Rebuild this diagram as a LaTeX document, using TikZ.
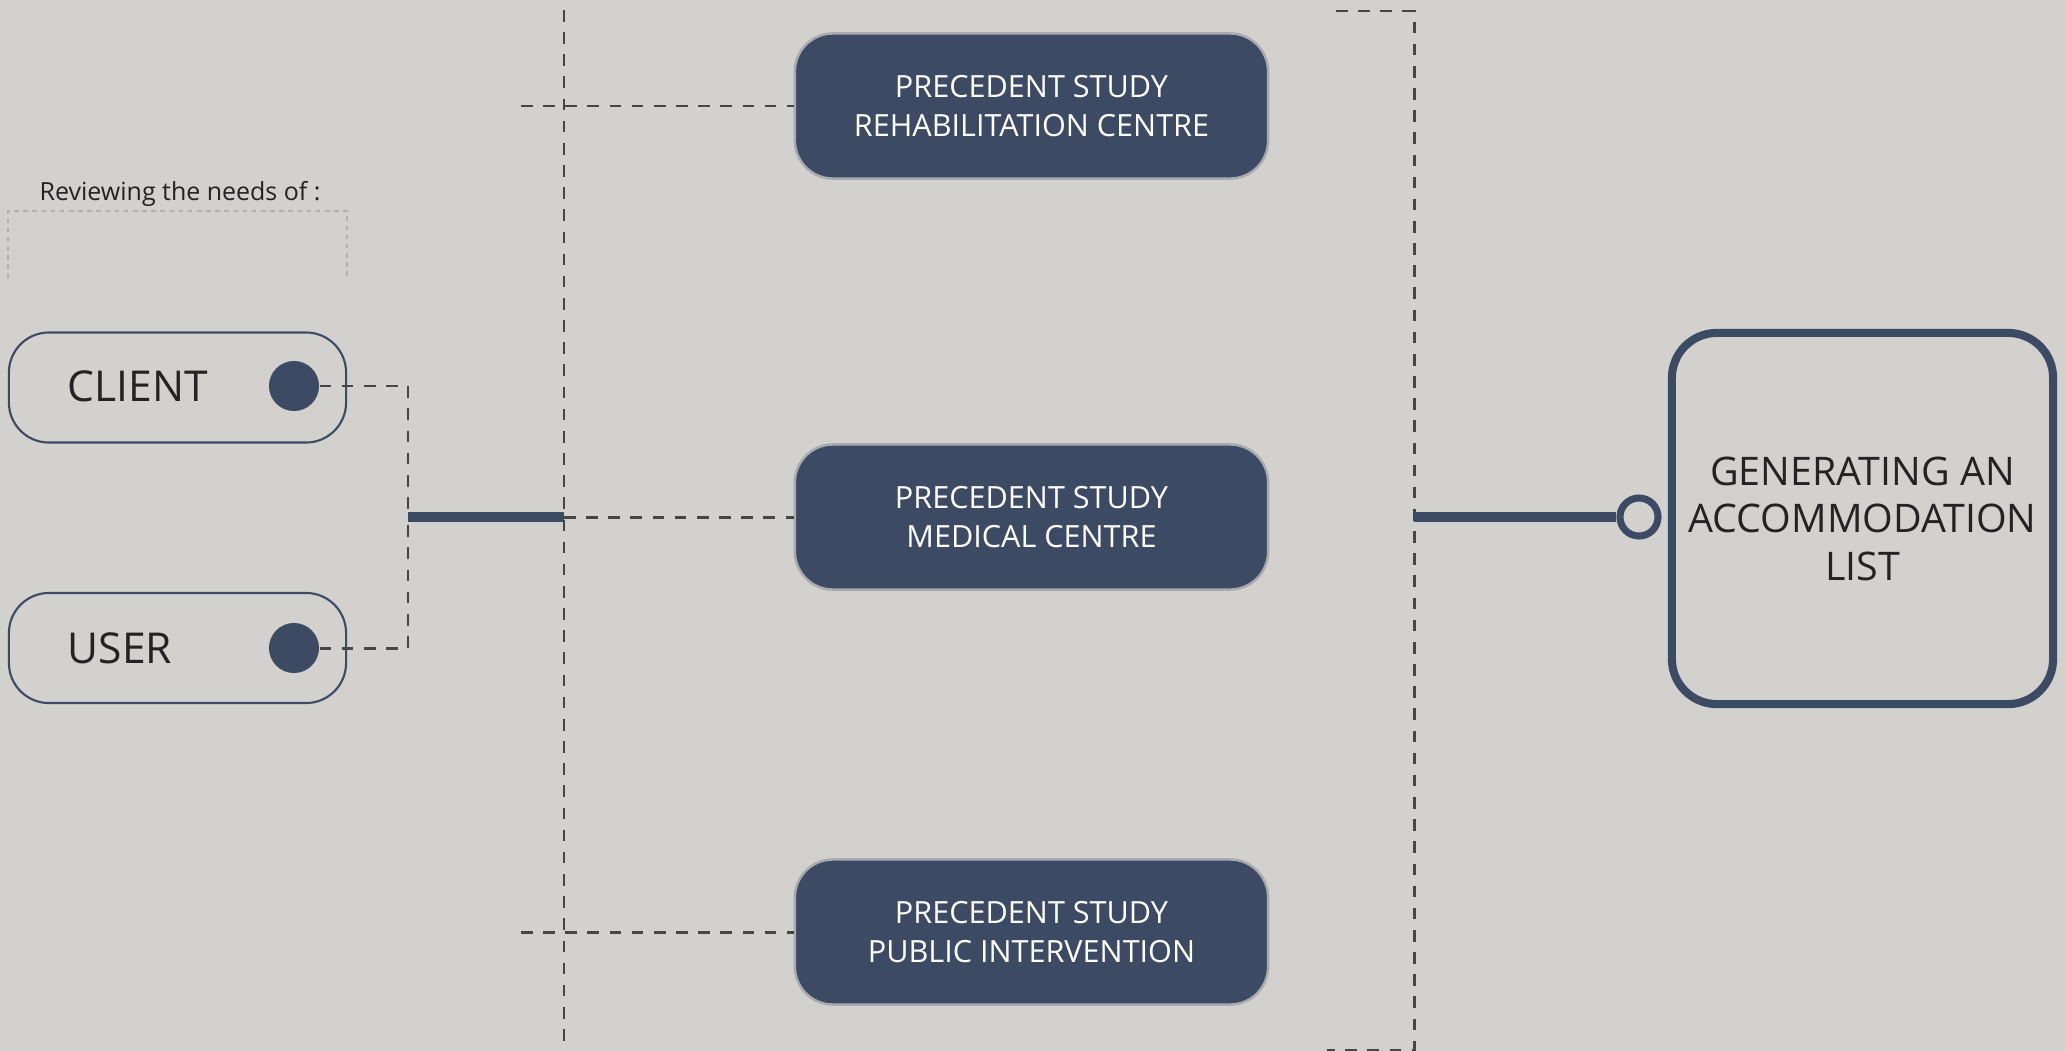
\documentclass[tikz,border=0pt]{standalone}
\usepackage{fontspec}
\setmainfont{Open Sans}
\usepackage{xcolor}
\usepackage{tikz}
\usetikzlibrary{positioning,calc}
\definecolor{stonebg}{HTML}{D2D1CD}
\definecolor{slateblue}{HTML}{3C4B63}
\definecolor{dashgrey}{HTML}{464646}
\definecolor{rimgrey}{HTML}{A8AAAF}
\definecolor{hintgrey}{HTML}{B2B2B2}
\definecolor{inkgrey}{HTML}{232323}

\begin{document}
\begin{tikzpicture}[
    x=0.01cm, y=-0.01cm,
    study/.style={draw=rimgrey, line width=0.7pt, fill=slateblue, rounded corners=0.38cm, minimum width=4.73cm, minimum height=1.45cm, text=white, align=center, inner sep=0pt, font=\fontsize{8.7}{10.9}\selectfont},
    person/.style={draw=slateblue, line width=0.6pt, rounded corners=0.4cm, minimum width=3.37cm, minimum height=1.1cm, inner sep=0pt},
    plabel/.style={anchor=west, inner sep=0pt, text=inkgrey, font=\fontsize{12.1}{15}\selectfont},
    dot/.style={circle, fill=slateblue, minimum size=0.5cm, inner sep=0pt},
    guide/.style={draw=dashgrey, line width=0.85pt, dash pattern=on 3.3pt off 3pt},
    bar/.style={draw=slateblue, line width=2.8pt}
]
    % Canvas
    \useasboundingbox (0,0) rectangle (2065,1051);
    \fill[stonebg] (0,0) rectangle (2065,1051);

    % Reviewing the needs of
    \node[anchor=base west, inner sep=0pt, text=inkgrey, font=\fontsize{7.1}{9}\selectfont] (review) at (39,200) {Reviewing the needs of :};
    \draw[draw=hintgrey, line width=0.4pt, dash pattern=on 1.3pt off 1.3pt] (8,278) |- (347,211) -- (347,278);

    % Client and user
    \node[person] (client) at (177.5,387.5) {};
    \node[plabel] (client_t) at (67,386) {CLIENT};
    \node[dot] (client_d) at (294,386) {};

    \node[person] (user) at (177.5,648) {};
    \node[plabel] (user_t) at (67,648) {USER};
    \node[dot] (user_d) at (294,648) {};

    % Precedent studies
    \node[study] (rehab) at (1031.5,106) {PRECEDENT STUDY\\REHABILITATION CENTRE};
    \node[study] (medic) at (1031.5,517) {PRECEDENT STUDY\\MEDICAL CENTRE};
    \node[study] (public) at (1031.5,932) {PRECEDENT STUDY\\PUBLIC INTERVENTION};

    % Result
    \node[draw=slateblue, line width=2.3pt, rounded corners=0.45cm, minimum width=3.81cm, minimum height=3.71cm, align=center, text=inkgrey, font=\fontsize{11.2}{13.5}\selectfont] (goal) at (1862.5,518.5) {GENERATING AN\\ACCOMMODATION\\LIST};
    \node[circle, draw=slateblue, line width=2pt, fill=stonebg, minimum size=0.38cm, inner sep=0pt] (ring) at (1639,517) {};

    % Guide coordinates
    \coordinate (fork) at (408,517);
    \coordinate (spine_t) at (564,10);
    \coordinate (spine_b) at (564,1051);
    \coordinate (spine_m) at (564,517);
    \coordinate (stub_t) at (521,106);
    \coordinate (stub_b) at (521,932);
    \coordinate (frame_t) at (1336,11);
    \coordinate (frame_b) at (1414,1050);
    \coordinate (frame_e) at (1327,1050);
    \coordinate (frame_m) at (1414,517);

    % Wires: client and user to the studies
    \draw[guide] (client_d.east) -| (fork);
    \draw[guide] (user_d.east) -| (fork);
    \draw[bar] (fork) -- (spine_m);
    \draw[guide] (spine_t) -- (spine_b);
    \draw[guide] (stub_t) -- (rehab.west);
    \draw[guide] (spine_m) -- (medic.west);
    \draw[guide] (stub_b) -- (public.west);

    % Wires: studies to the result
    \draw[guide] (frame_t) -| (frame_b) -- (frame_e);
    \draw[bar] (frame_m) -- (ring.west);
\end{tikzpicture}
\end{document}
